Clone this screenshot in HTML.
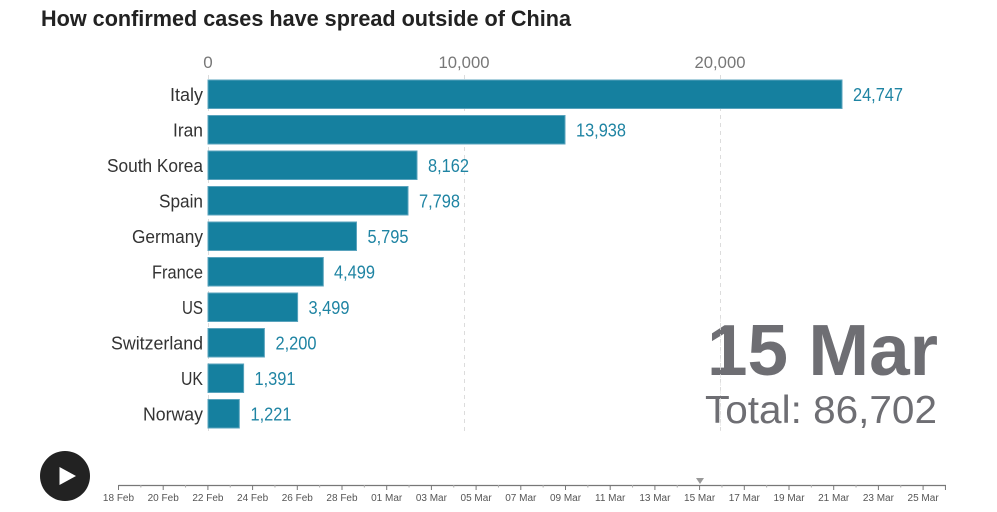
<!DOCTYPE html>
<html><head><meta charset="utf-8"><style>
html,body{margin:0;padding:0;background:#fff;}
svg{display:block;font-family:"Liberation Sans",Arial,sans-serif;}
</style></head><body>
<svg width="997" height="512" viewBox="0 0 997 512" xmlns="http://www.w3.org/2000/svg">
<rect width="997" height="512" fill="#fff"/>
<text x="41" y="26" font-size="22" font-weight="bold" fill="#222" textLength="530" lengthAdjust="spacingAndGlyphs">How confirmed cases have spread outside of China</text>

<!-- grid -->
<g stroke="#dcdcdc" stroke-width="1" stroke-dasharray="4,4">
<line x1="208.5" y1="75" x2="208.5" y2="431"/>
<line x1="464.5" y1="75" x2="464.5" y2="431"/>
<line x1="720.5" y1="75" x2="720.5" y2="431"/>
</g>
<g font-size="17" fill="#777" text-anchor="middle">
<text x="208" y="68">0</text>
<text x="464" y="68" textLength="51" lengthAdjust="spacingAndGlyphs">10,000</text>
<text x="720" y="68" textLength="51" lengthAdjust="spacingAndGlyphs">20,000</text>
</g>

<!-- bars -->
<g fill="#15809f" stroke="#5aa3bd" stroke-width="1">
<rect x="208" y="80" width="634" height="28.5"/>
<rect x="208" y="115.5" width="357" height="28.5"/>
<rect x="208" y="151" width="209" height="28.5"/>
<rect x="208" y="186.5" width="200" height="28.5"/>
<rect x="208" y="222" width="148.5" height="28.5"/>
<rect x="208" y="257.5" width="115.3" height="28.5"/>
<rect x="208" y="293" width="89.6" height="28.5"/>
<rect x="208" y="328.5" width="56.4" height="28.5"/>
<rect x="208" y="364" width="35.6" height="28.5"/>
<rect x="208" y="399.5" width="31.3" height="28.5"/>
</g>

<!-- country labels -->
<g font-size="18" fill="#333" text-anchor="end">
<text x="203" y="100.8" textLength="33" lengthAdjust="spacingAndGlyphs">Italy</text>
<text x="203" y="136.3" textLength="30" lengthAdjust="spacingAndGlyphs">Iran</text>
<text x="203" y="171.8" textLength="96" lengthAdjust="spacingAndGlyphs">South Korea</text>
<text x="203" y="207.3" textLength="44" lengthAdjust="spacingAndGlyphs">Spain</text>
<text x="203" y="242.8" textLength="71" lengthAdjust="spacingAndGlyphs">Germany</text>
<text x="203" y="278.3" textLength="51" lengthAdjust="spacingAndGlyphs">France</text>
<text x="203" y="313.8" textLength="21" lengthAdjust="spacingAndGlyphs">US</text>
<text x="203" y="349.3" textLength="92" lengthAdjust="spacingAndGlyphs">Switzerland</text>
<text x="203" y="384.8" textLength="22" lengthAdjust="spacingAndGlyphs">UK</text>
<text x="203" y="420.3" textLength="60" lengthAdjust="spacingAndGlyphs">Norway</text>
</g>

<!-- values -->
<g font-size="18" fill="#1f84a3">
<text x="853" y="100.8" textLength="50" lengthAdjust="spacingAndGlyphs">24,747</text>
<text x="576" y="136.3" textLength="50" lengthAdjust="spacingAndGlyphs">13,938</text>
<text x="428" y="171.8" textLength="41" lengthAdjust="spacingAndGlyphs">8,162</text>
<text x="419" y="207.3" textLength="41" lengthAdjust="spacingAndGlyphs">7,798</text>
<text x="367.5" y="242.8" textLength="41" lengthAdjust="spacingAndGlyphs">5,795</text>
<text x="334" y="278.3" textLength="41" lengthAdjust="spacingAndGlyphs">4,499</text>
<text x="308.5" y="313.8" textLength="41" lengthAdjust="spacingAndGlyphs">3,499</text>
<text x="275.5" y="349.3" textLength="41" lengthAdjust="spacingAndGlyphs">2,200</text>
<text x="254.5" y="384.8" textLength="41" lengthAdjust="spacingAndGlyphs">1,391</text>
<text x="250.5" y="420.3" textLength="41" lengthAdjust="spacingAndGlyphs">1,221</text>
</g>

<!-- date & total -->
<text x="938" y="375" font-size="72" font-weight="bold" fill="#6e6e73" text-anchor="end" textLength="231" lengthAdjust="spacingAndGlyphs">15 Mar</text>
<text x="937" y="423" font-size="39" fill="#6e6e73" text-anchor="end" textLength="232" lengthAdjust="spacingAndGlyphs">Total: 86,702</text>
<line x1="720.5" y1="318" x2="720.5" y2="431" stroke="#e6e6e6" stroke-width="1" stroke-dasharray="4,4" opacity="0.7"/>

<!-- play button -->
<circle cx="65" cy="476" r="25" fill="#222"/>
<polygon points="59.5,467 59.5,485 76,476" fill="#fff"/>

<!-- timeline -->
<line x1="118.5" y1="485.5" x2="946" y2="485.5" stroke="#777" stroke-width="1.2"/>
<g id="ticks" stroke="#777" stroke-width="1"></g>
<g id="tlabels" font-size="10" fill="#555" text-anchor="middle"></g>
<polygon points="696,478 704,478 700,484" fill="#999"/>
</svg>
<script>
(function(){
  var ns="http://www.w3.org/2000/svg";
  var tg=document.getElementById("ticks"), lg=document.getElementById("tlabels");
  var labels=["18 Feb","20 Feb","22 Feb","24 Feb","26 Feb","28 Feb","01 Mar","03 Mar","05 Mar","07 Mar","09 Mar","11 Mar","13 Mar","15 Mar","17 Mar","19 Mar","21 Mar","23 Mar","25 Mar"];
  for(var i=0;i<=37;i++){
    var x=118.5+i*22.35;
    var major=(i%2===0)||i===37;
    var l=document.createElementNS(ns,"line");
    l.setAttribute("x1",x);l.setAttribute("x2",x);
    l.setAttribute("y1",485);l.setAttribute("y2",major?490:487.5);
    if(!major){l.setAttribute("stroke","#aaa");}
    tg.appendChild(l);
    if(i%2===0 && i<=36){
      var t=document.createElementNS(ns,"text");
      t.setAttribute("x",x);t.setAttribute("y",501);
      t.textContent=labels[i/2];
      lg.appendChild(t);
    }
  }
})();
</script>
</body></html>
